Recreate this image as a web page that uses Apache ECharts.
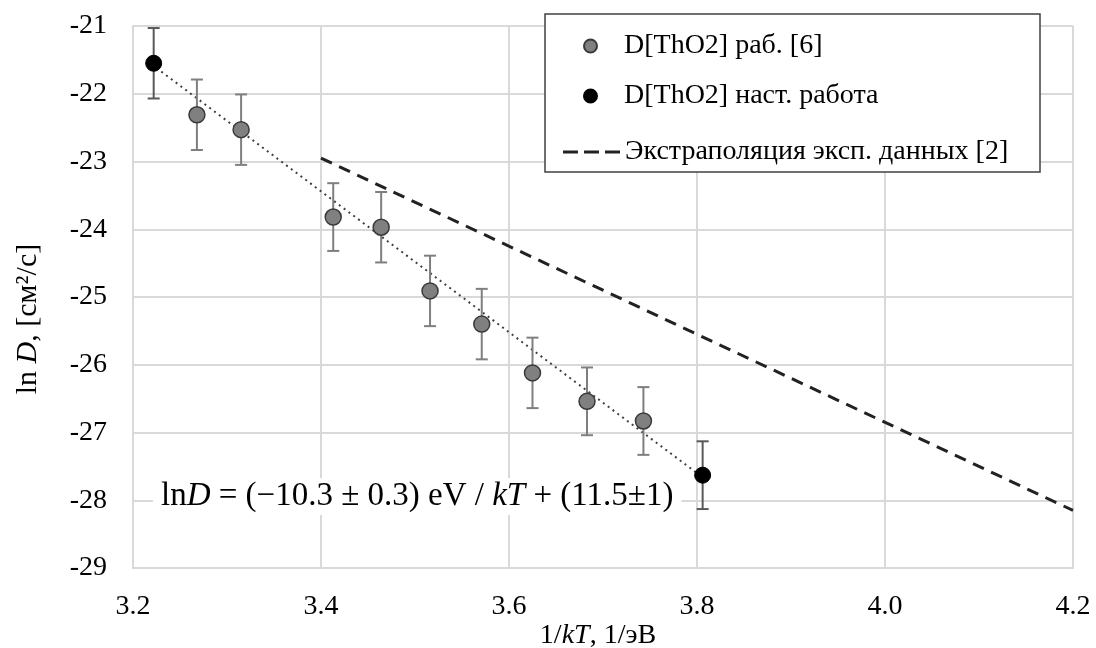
<!DOCTYPE html>
<html>
<head>
<meta charset="utf-8">
<script src="https://cdn.jsdelivr.net/npm/echarts@6/dist/echarts.min.js"></script>
<style>html,body{margin:0;padding:0;background:#fff}#c{width:1096px;height:648px}</style>
</head>
<body>
<div id="c"></div>
<script>
// ---- data ----
var grayX = [3.268, 3.315, 3.413, 3.464, 3.516, 3.571, 3.625, 3.683, 3.743];
var grayY = [-22.31, -22.53, -23.82, -23.97, -24.91, -25.40, -26.12, -26.54, -26.83];
var grayErr = [0.52, 0.52, 0.5, 0.52, 0.52, 0.52, 0.52, 0.5, 0.5];
var blackX = [3.222, 3.806];
var blackY = [-21.55, -27.63];
var blackErr = [0.52, 0.5];
var fitX = [3.225, 3.80];
var fitY = [-21.62, -27.6];
var extrapX = [3.4, 4.2];
var extrapY = [-22.95, -28.15];
var xTicks = ['3.2', '3.4', '3.6', '3.8', '4.0', '4.2'];
var names = ['D[ThO2] раб. [6]', 'D[ThO2] наст. работа', 'Экстраполяция эксп. данных [2]'];

var FONT = 'Liberation Serif';
function pts(xs, ys) { return xs.map(function (x, i) { return [x, ys[i]]; }); }
function errs(xs, ys, es) { return xs.map(function (x, i) { return [x, ys[i] - es[i], ys[i] + es[i]]; }); }
function errRender(color) {
  return function (params, api) {
    var x = api.value(0);
    var lo = api.coord([x, api.value(1)]);
    var hi = api.coord([x, api.value(2)]);
    var w = 6;
    var st = { stroke: color, lineWidth: 2 };
    return { type: 'group', children: [
      { type: 'line', shape: { x1: lo[0], y1: lo[1], x2: hi[0], y2: hi[1] }, style: st },
      { type: 'line', shape: { x1: lo[0] - w, y1: lo[1], x2: lo[0] + w, y2: lo[1] }, style: st },
      { type: 'line', shape: { x1: hi[0] - w, y1: hi[1], x2: hi[0] + w, y2: hi[1] }, style: st }
    ]};
  };
}

var chart = echarts.init(document.getElementById('c'));
var legendText = { fontFamily: FONT, fontSize: 28, color: '#000' };
var richN = { fontFamily: FONT, fontSize: 28, color: '#000', lineHeight: 28 };
var richI = { fontFamily: FONT, fontSize: 28, fontStyle: 'italic', color: '#000', lineHeight: 28 };
chart.setOption({
  animation: false,
  grid: { left: 133, right: 23, top: 26, bottom: 80, containLabel: false, outerBoundsMode: 'none' },
  xAxis: {
    type: 'value', min: 3.2, max: 4.2, interval: 0.2,
    axisLine: { show: true, lineStyle: { color: '#d9d9d9', width: 2 } },
    axisTick: { show: false },
    splitLine: { show: true, lineStyle: { color: '#d9d9d9', width: 2 } },
    axisLabel: { fontFamily: FONT, fontSize: 28, color: '#000', margin: 25,
      formatter: function (v) { return xTicks[Math.round((v - 3.2) / 0.2)]; } },
    name: '{n|1/}{i|kT}{n|, 1/эВ}', nameLocation: 'middle', nameGap: 54, nameMoveOverlap: false,
    nameTextStyle: { padding: [0, 10, 0, 0], rich: { n: richN, i: richI } }
  },
  yAxis: {
    type: 'value', min: -29, max: -21, interval: 1,
    axisLine: { show: true, lineStyle: { color: '#d9d9d9', width: 2 } },
    axisTick: { show: false },
    splitLine: { show: true, lineStyle: { color: '#d9d9d9', width: 2 } },
    axisLabel: { fontFamily: FONT, fontSize: 28, color: '#000', margin: 26 },
    name: '{n|ln }{i|D}{n|, [см²/с]}', nameLocation: 'middle', nameGap: 90, nameRotate: 90,
    nameTextStyle: { padding: [0, 44, 0, 0], rich: { n: { fontFamily: FONT, fontSize: 30, color: '#000' }, i: { fontFamily: FONT, fontSize: 30, fontStyle: 'italic', color: '#000' } } }
  },
  legend: [
    { data: [{ name: names[0] }], left: 583, top: 32, padding: 0, itemWidth: 57, itemHeight: 13,
      textStyle: legendText, selectedMode: false, z: 10 },
    { data: [{ name: names[1] }], left: 583, top: 82, padding: 0, itemWidth: 57, itemHeight: 13,
      textStyle: legendText, selectedMode: false, z: 10 },
    { data: [{ name: names[2], icon: 'path://M0,0H15V3H0Z M21,0H36V3H21Z M42,0H57V3H42Z' }],
      left: 563, top: 138, padding: 0, itemWidth: 57, itemHeight: 3,
      textStyle: legendText, selectedMode: false, z: 10 }
  ],
  graphic: [
    { type: 'rect', z: 6, shape: { x: 545, y: 14, width: 495, height: 158 },
      style: { fill: '#fff', stroke: '#404040', lineWidth: 1.5 } },
    { type: 'text', z: 6, left: 153, top: 478,
      style: {
        text: '{n|ln}{i|D}{n| = (−10.3 ± 0.3) eV / }{i|kT}{n| + (11.5±1)}',
        backgroundColor: '#fff', padding: [2, 8, 2, 8],
        rich: { n: { fontFamily: FONT, fontSize: 33, fill: '#000' }, i: { fontFamily: FONT, fontSize: 33, fontStyle: 'italic', fill: '#000' } }
      } }
  ],
  series: [
    { type: 'line', name: 'fit', data: pts(fitX, fitY), symbol: 'none', z: 2,
      lineStyle: { color: '#404040', width: 2, type: [2, 4] } },
    { type: 'line', name: names[2], data: pts(extrapX, extrapY), symbol: 'none', z: 2,
      itemStyle: { color: '#222' },
      lineStyle: { color: '#222', width: 3, type: [12, 8] } },
    { type: 'custom', name: 'errG', data: errs(grayX, grayY, grayErr), renderItem: errRender('#7f7f7f'),
      encode: { x: 0, y: [1, 2] }, z: 3 },
    { type: 'custom', name: 'errB', data: errs(blackX, blackY, blackErr), renderItem: errRender('#595959'),
      encode: { x: 0, y: [1, 2] }, z: 3 },
    { type: 'scatter', name: names[0], data: pts(grayX, grayY), symbolSize: 16, z: 4,
      itemStyle: { color: '#808080', borderColor: '#3a3a3a', borderWidth: 1.5, opacity: 1 } },
    { type: 'scatter', name: names[1], data: pts(blackX, blackY), symbolSize: 16, z: 4,
      itemStyle: { color: '#000', borderColor: '#000', borderWidth: 1, opacity: 1 } }
  ]
});
</script>
</body>
</html>
